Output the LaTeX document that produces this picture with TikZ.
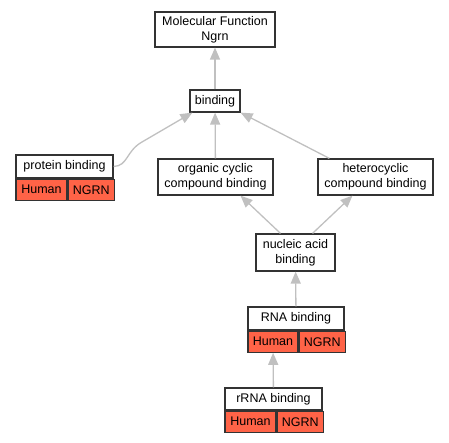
\documentclass[tikz,border=0pt]{standalone}
\usepackage{fontspec}
\setmainfont{Liberation Sans}
\usetikzlibrary{arrows.meta, positioning}
\definecolor{hitred}{RGB}{255,99,71}
\definecolor{edgegray}{RGB}{192,192,192}

\begin{document}
\begin{tikzpicture}[x=1pt, y=-1pt,
    term/.style={draw=black!80, line width=1.2pt, fill=white, align=center,
        inner sep=0pt, font=\fontsize{12.5}{15}\selectfont},
    hit/.style={term, fill=hitred, minimum height=21pt},
    isa/.style={draw=edgegray, line width=1.3pt, -{Triangle[width=10pt,length=12pt]}}]
    \useasboundingbox (0,0) rectangle (449,443);

    % GO terms
    \node[term, minimum width=120pt, minimum height=35pt] (mf) at (215,29.5) {Molecular Function\\Ngrn};
    \node[term, minimum width=50pt, minimum height=22pt] (bind) at (215,101) {binding};
    \node[term, minimum width=115pt, minimum height=36pt] (org) at (215.5,177) {organic cyclic\\compound binding};
    \node[term, minimum width=115pt, minimum height=36pt] (het) at (375.5,177) {heterocyclic\\compound binding};
    \node[term, minimum width=79pt, minimum height=37pt] (nuc) at (295.5,252.5) {nucleic acid\\binding};

    % Terms with annotations
    \node[term, minimum width=97pt, minimum height=23pt] (prot) at (64.5,166.5) {protein binding};
    \node[hit, minimum width=51pt, anchor=north west] (protH) at (prot.south west) {Human};
    \node[hit, minimum width=46pt, anchor=north west] (protN) at (protH.north east) {NGRN};

    \node[term, minimum width=96pt, minimum height=23pt] (rna) at (296,318.5) {RNA binding};
    \node[hit, minimum width=50pt, anchor=north west] (rnaH) at (rna.south west) {Human};
    \node[hit, minimum width=46pt, anchor=north west] (rnaN) at (rnaH.north east) {NGRN};

    \node[term, minimum width=97pt, minimum height=22pt] (rrna) at (273.5,399) {rRNA binding};
    \node[hit, minimum width=51pt, anchor=north west] (rrnaH) at (rrna.south west) {Human};
    \node[hit, minimum width=46pt, anchor=north west] (rrnaN) at (rrnaH.north east) {NGRN};

    % is-a edges
    \draw[isa] (bind) -- (mf);
    \draw[isa] (prot.east) .. controls (128,166) and (126,151) .. (142,142) -- ([xshift=3pt]bind.south west);
    \draw[isa] (org) -- (bind);
    \draw[isa] ([xshift=12pt]het.north west) -- (bind.south east);
    \draw[isa] ([xshift=-15pt]nuc.north) -- ([xshift=25pt]org.south);
    \draw[isa] ([xshift=17pt]nuc.north) -- ([xshift=-23pt]het.south);
    \draw[isa] (rna) -- (nuc);
    \draw[isa] (rrna) -- (rnaH);
\end{tikzpicture}
\end{document}
